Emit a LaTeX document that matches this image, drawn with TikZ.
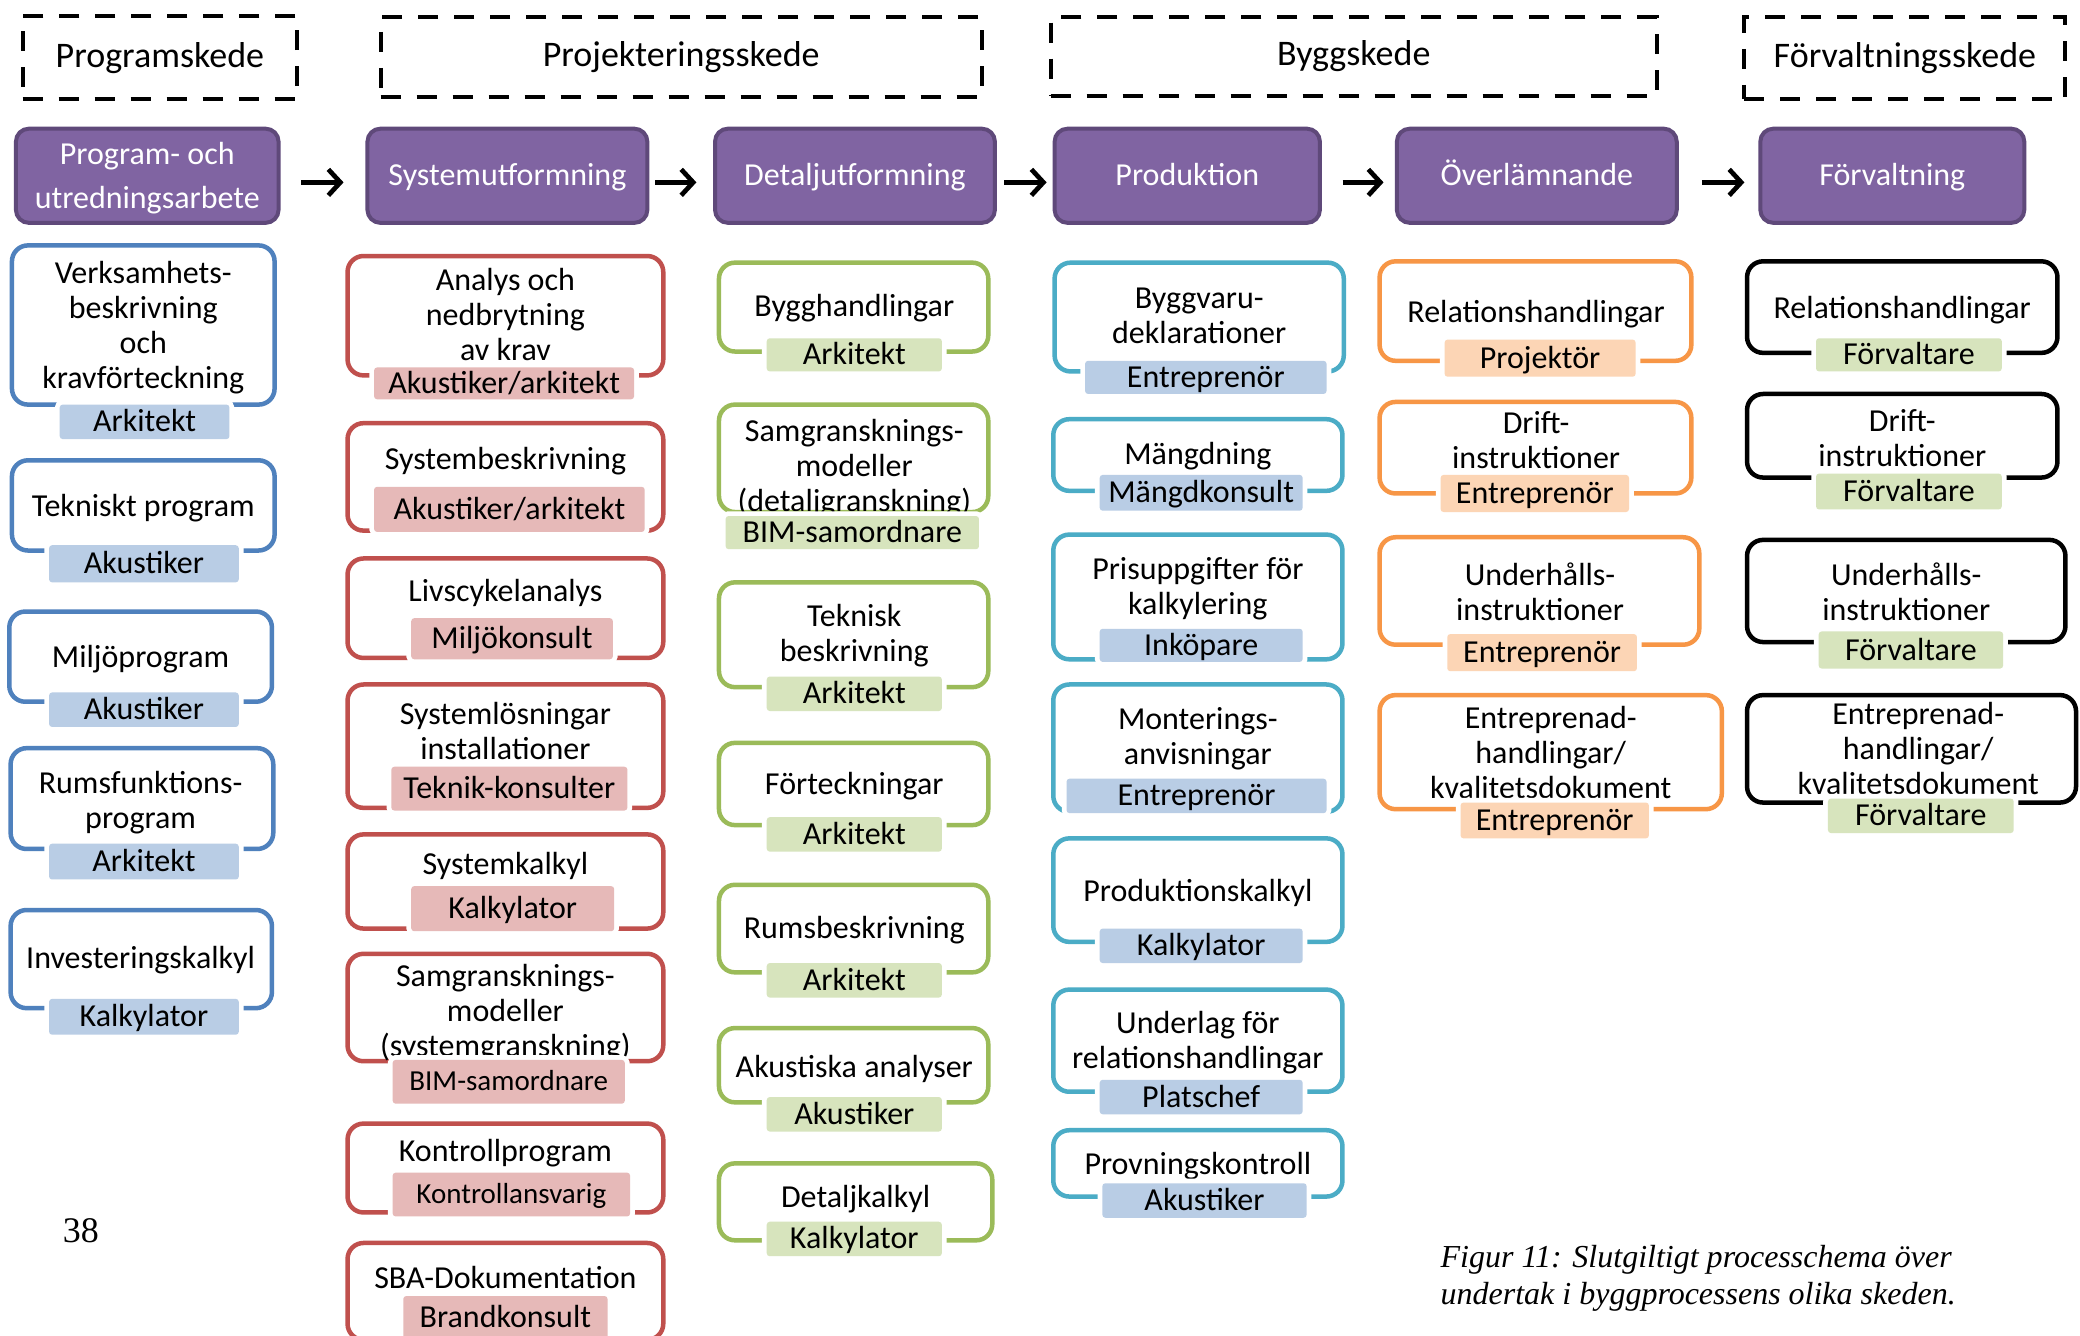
\documentclass[tikz,border=0pt]{standalone}
\usepackage{fontspec}
\setmainfont{Carlito}
\newfontfamily\capfont{Liberation Serif}
\usetikzlibrary{arrows.meta}
\definecolor{cBlue}{HTML}{4F81BD}
\definecolor{cBlueL}{HTML}{B9CDE5}
\definecolor{cRed}{HTML}{C0504D}
\definecolor{cRedL}{HTML}{E6B9B8}
\definecolor{cGreen}{HTML}{9BBB59}
\definecolor{cGreenL}{HTML}{D7E4BD}
\definecolor{cTeal}{HTML}{4BACC6}
\definecolor{cOrange}{HTML}{F79646}
\definecolor{cOrangeL}{HTML}{FCD5B5}
\definecolor{cPurple}{HTML}{8064A2}
\definecolor{cPurpleD}{HTML}{5F497A}
\begin{document}
\begin{tikzpicture}[x=1.3265pt,y=-1.3265pt,
  every node/.style={inner sep=0pt, outer sep=0pt},
  box/.style n args={4}{at={({(#1+#3)/2},{(#2+#4)/2})}, minimum width={(#3-#1)*1.3265pt}, minimum height={(#4-#2)*1.3265pt}},
  phase/.style={draw=black, line width=4pt, dash pattern=on 20pt off 16pt, font=\fontsize{36}{40}\selectfont, text height=19pt, text depth=0pt},
  stage/.style={draw=cPurpleD, fill=cPurple, line width=4pt, rounded corners=13pt, text=white, align=center, font=\fontsize{32}{44}\selectfont},
  one/.style={text height=21pt, text depth=1pt},
  task/.style={line width=4.5pt, rounded corners=16pt},
  taskB/.style={task, draw=cBlue},
  taskR/.style={task, draw=cRed},
  taskG/.style={task, draw=cGreen},
  taskT/.style={task, draw=cTeal},
  taskO/.style={task, draw=cOrange},
  taskK/.style={task, draw=black},
  tx/.style={align=center, font=\fontsize{32}{35}\selectfont, yshift=-2.6pt},
  role/.style={rounded corners=3pt, preaction={draw=white, line width=9.5pt}, font=\fontsize{32}{35}\selectfont, text height=21pt, text depth=1pt},
  small/.style={font=\fontsize{29}{33}\selectfont, text height=19pt},
  roleB/.style={role, fill=cBlueL},
  roleR/.style={role, fill=cRedL},
  roleG/.style={role, fill=cGreenL},
  roleO/.style={role, fill=cOrangeL},
  arr/.style={line width=4.7pt, -{Straight Barb[length=12pt,width=26pt]}}
]
\useasboundingbox (0,0) rectangle (1568,1007);
\fill[white] (0,0) rectangle (1568,1007);

% phases
\node[phase, box={17}{12}{224}{75}] (ph1) {Programskede};
\node[phase, box={287}{13}{740}{73}] (ph2) {Projekteringsskede};
\node[phase, box={792}{13}{1249}{72}] (ph3) {Byggskede};
\node[phase, box={1315}{13}{1557}{75}] (ph4) {Förvaltningsskede};

% stages
\node[stage, text depth=0pt, box={12}{97}{210}{168}] (p1) {Program- och\\utredningsarbete};
\node[stage, one, box={277}{97}{488}{168}] (p2) {Systemutformning};
\node[stage, one, box={539}{97}{750}{168}] (p3) {Detaljutformning};
\node[stage, one, box={795}{97}{995}{168}] (p4) {Produktion};
\node[stage, one, box={1053}{97}{1264}{168}] (p5) {Överlämnande};
\node[stage, one, box={1327}{97}{1526}{168}] (p6) {Förvaltning};

\draw[arr] ([xshift=22.6pt,yshift=-6.6pt]p1.east) -- ([xshift=-23.9pt,yshift=-6.6pt]p2.west);
\draw[arr] ([xshift=8pt,yshift=-6.6pt]p2.east) -- ([xshift=-18.6pt,yshift=-6.6pt]p3.west);
\draw[arr] ([xshift=9.3pt,yshift=-6.6pt]p3.east) -- ([xshift=-8pt,yshift=-6.6pt]p4.west);
\draw[arr] ([xshift=22.6pt,yshift=-6.6pt]p4.east) -- ([xshift=-13.3pt,yshift=-6.6pt]p5.west);
\draw[arr] ([xshift=25.2pt,yshift=-6.6pt]p5.east) -- ([xshift=-15.9pt,yshift=-6.6pt]p6.west);

% column 1
\node[taskB, box={9}{185}{207}{305}] (b11) {};
\node[tx] (t11) at (108,245) {Verksamhets-\\beskrivning\\och\\kravförteckning};
\node[roleB, box={45}{305}{173}{331}] (r11) {Arkitekt};
\node[taskB, box={9}{347}{207}{415}] (b12) {};
\node[tx] (t12) at (108,381) {Tekniskt program};
\node[roleB, box={37}{411}{180}{439}] (r12) {Akustiker};
\node[taskB, box={7}{461}{205}{529}] (b13) {};
\node[tx] (t13) at (106,495) {Miljöprogram};
\node[roleB, box={37}{522}{180}{548}] (r13) {Akustiker};
\node[taskB, box={8}{564}{206}{640}] (b14) {};
\node[tx] (t14) at (106,603) {Rumsfunktions-\\program};
\node[roleB, box={37}{636}{180}{663}] (r14) {Arkitekt};
\node[taskB, box={8}{686}{205}{760}] (b15) {};
\node[tx] (t15) at (106,722) {Investeringskalkyl};
\node[roleB, box={37}{753}{180}{780}] (r15) {Kalkylator};

% column 2
\node[taskR, box={262}{193}{500}{283}] (b21) {};
\node[tx] (t21) at (381,235) {Analys och\\nedbrytning\\av krav};
\node[roleR, box={282}{277}{478}{301}] (r21) {Akustiker/arkitekt};
\node[taskR, box={262}{319}{500}{400}] (b22) {};
\node[tx] (t22) at (381,346) {Systembeskrivning};
\node[roleR, box={282}{367}{486}{401}] (r22) {Akustiker/arkitekt};
\node[taskR, box={262}{421}{500}{496}] (b23) {};
\node[tx] (t23) at (381,445) {Livscykelanalys};
\node[roleR, box={310}{466}{462}{497}] (r23) {Miljökonsult};
\node[taskR, box={262}{516}{500}{609}] (b24) {};
\node[tx] (t24) at (381,549) {Systemlösningar\\installationer};
\node[roleR, box={295}{578}{473}{611}] (r24) {Teknik-konsulter};
\node[taskR, box={262}{629}{500}{700}] (b25) {};
\node[tx] (t25) at (381,651) {Systemkalkyl};
\node[roleR, box={310}{668}{463}{702}] (r25) {Kalkylator};
\node[taskR, box={262}{719}{500}{800}] (b26) {};
\node[tx] (t26) at (381,762) {Samgransknings-\\modeller\\(systemgranskning)};
\node[roleR, small, box={296}{799}{471}{832}] (r26) {BIM-samordnare};
\node[taskR, box={262}{847}{500}{914}] (b27) {};
\node[tx] (t27) at (381,867) {Kontrollprogram};
\node[roleR, small, box={296}{884}{475}{917}] (r27) {Kontrollansvarig};
\node[taskR, box={262}{937}{500}{1010}] (b28) {};
\node[tx] (t28) at (381,961) {SBA-Dokumentation};
\node[roleR, box={304}{977}{458}{1010}] (r28) {Brandkonsult};

% column 3
\node[taskG, box={542}{198}{745}{265}] (b31) {};
\node[tx] (t31) at (644,230) {Bygghandlingar};
\node[roleG, box={578}{255}{710}{280}] (r31) {Arkitekt};
\node[taskG, box={542}{305}{745}{386}] (b32) {};
\node[tx] (t32) at (644,351) {Samgransknings-\\modeller\\(detaljgranskning)};
\node[roleG, box={547}{389}{738}{414}] (r32) {BIM-samordnare};
\node[taskG, box={542}{439}{745}{518}] (b33) {};
\node[tx] (t33) at (644,477) {Teknisk\\beskrivning};
\node[roleG, box={578}{510}{710}{536}] (r33) {Arkitekt};
\node[taskG, box={542}{560}{745}{622}] (b34) {};
\node[tx] (t34) at (644,591) {Förteckningar};
\node[roleG, box={578}{616}{710}{642}] (r34) {Arkitekt};
\node[taskG, box={542}{667}{745}{733}] (b35) {};
\node[tx] (t35) at (644,699) {Rumsbeskrivning};
\node[roleG, box={578}{726}{710}{752}] (r35) {Arkitekt};
\node[taskG, box={542}{775}{745}{831}] (b36) {};
\node[tx] (t36) at (644,804) {Akustiska analyser};
\node[roleG, box={578}{827}{710}{853}] (r36) {Akustiker};
\node[taskG, box={542}{877}{748}{935}] (b37) {};
\node[tx] (t37) at (645,902) {Detaljkalkyl};
\node[roleG, box={578}{921}{710}{947}] (r37) {Kalkylator};

% column 4
\node[taskT, box={795}{198}{1013}{280}] (b41) {};
\node[tx] (t41) at (904,236) {Byggvaru-\\deklarationer};
\node[roleB, box={818}{272}{1000}{297}] (r41) {Entreprenör};
\node[taskT, box={794}{316}{1012}{370}] (b42) {};
\node[tx] (t42) at (903,342) {Mängdning};
\node[roleB, box={829}{358}{982}{385}] (r42) {Mängdkonsult};
\node[taskT, box={794}{403}{1012}{497}] (b43) {};
\node[tx] (t43) at (903,442) {Prisuppgifter för\\kalkylering};
\node[roleB, box={829}{474}{982}{499}] (r43) {Inköpare};
\node[taskT, box={794}{516}{1012}{612}] (b44) {};
\node[tx] (t44) at (903,555) {Monterings-\\anvisningar};
\node[roleB, box={804}{587}{1000}{613}] (r44) {Entreprenör};
\node[taskT, box={794}{632}{1012}{710}] (b45) {};
\node[tx] (t45) at (903,671) {Produktionskalkyl};
\node[roleB, box={829}{700}{982}{726}] (r45) {Kalkylator};
\node[taskT, box={794}{746}{1012}{823}] (b46) {};
\node[tx] (t46) at (903,784) {Underlag för\\relationshandlingar};
\node[roleB, box={829}{814}{982}{840}] (r46) {Platschef};
\node[taskT, box={794}{852}{1012}{902}] (b47) {};
\node[tx] (t47) at (903,877) {Provningskontroll};
\node[roleB, box={831}{892}{985}{918}] (r47) {Akustiker};

% column 5
\node[taskO, box={1040}{197}{1275}{272}] (b51) {};
\node[tx] (t51) at (1158,235) {Relationshandlingar};
\node[roleO, box={1089}{256}{1233}{284}] (r51) {Projektör};
\node[taskO, box={1040}{303}{1275}{372}] (b52) {};
\node[tx] (t52) at (1158,330) {Drift-\\instruktioner};
\node[roleO, box={1086}{358}{1228}{386}] (r52) {Entreprenör};
\node[taskO, box={1040}{405}{1281}{486}] (b53) {};
\node[tx] (t53) at (1161,444) {Underhålls-\\instruktioner};
\node[roleO, box={1091}{478}{1234}{506}] (r53) {Entreprenör};
\node[taskO, box={1040}{524}{1298}{610}] (b54) {};
\node[tx] (t54) at (1169,565) {Entreprenad-\\handlingar/\\kvalitetsdokument};
\node[roleO, box={1101}{605}{1243}{632}] (r54) {Entreprenör};

% column 6
\node[taskK, box={1317}{197}{1551}{266}] (b61) {};
\node[tx] (t61) at (1434,232) {Relationshandlingar};
\node[roleG, box={1369}{255}{1509}{280}] (r61) {Förvaltare};
\node[taskK, box={1317}{297}{1551}{360}] (b62) {};
\node[tx] (t62) at (1434,328) {Drift-\\instruktioner};
\node[roleG, box={1369}{357}{1509}{384}] (r62) {Förvaltare};
\node[taskK, box={1317}{407}{1557}{484}] (b63) {};
\node[tx] (t63) at (1437,444) {Underhålls-\\instruktioner};
\node[roleG, box={1371}{476}{1510}{504}] (r63) {Förvaltare};
\node[taskK, box={1317}{524}{1565}{605}] (b64) {};
\node[tx] (t64) at (1446,562) {Entreprenad-\\handlingar/\\kvalitetsdokument};
\node[roleG, box={1378}{602}{1518}{628}] (r64) {Förvaltare};

% page number and caption
\node[font=\capfont\fontsize{36}{40}\selectfont] (pg) at (61,928) {38};
\node[anchor=west, align=left, font=\capfont\itshape\fontsize{32}{37}\selectfont] (cap) at (1086,964) {Figur 11: Slutgiltigt processchema över\\undertak i byggprocessens olika skeden.};
\end{tikzpicture}
\end{document}
